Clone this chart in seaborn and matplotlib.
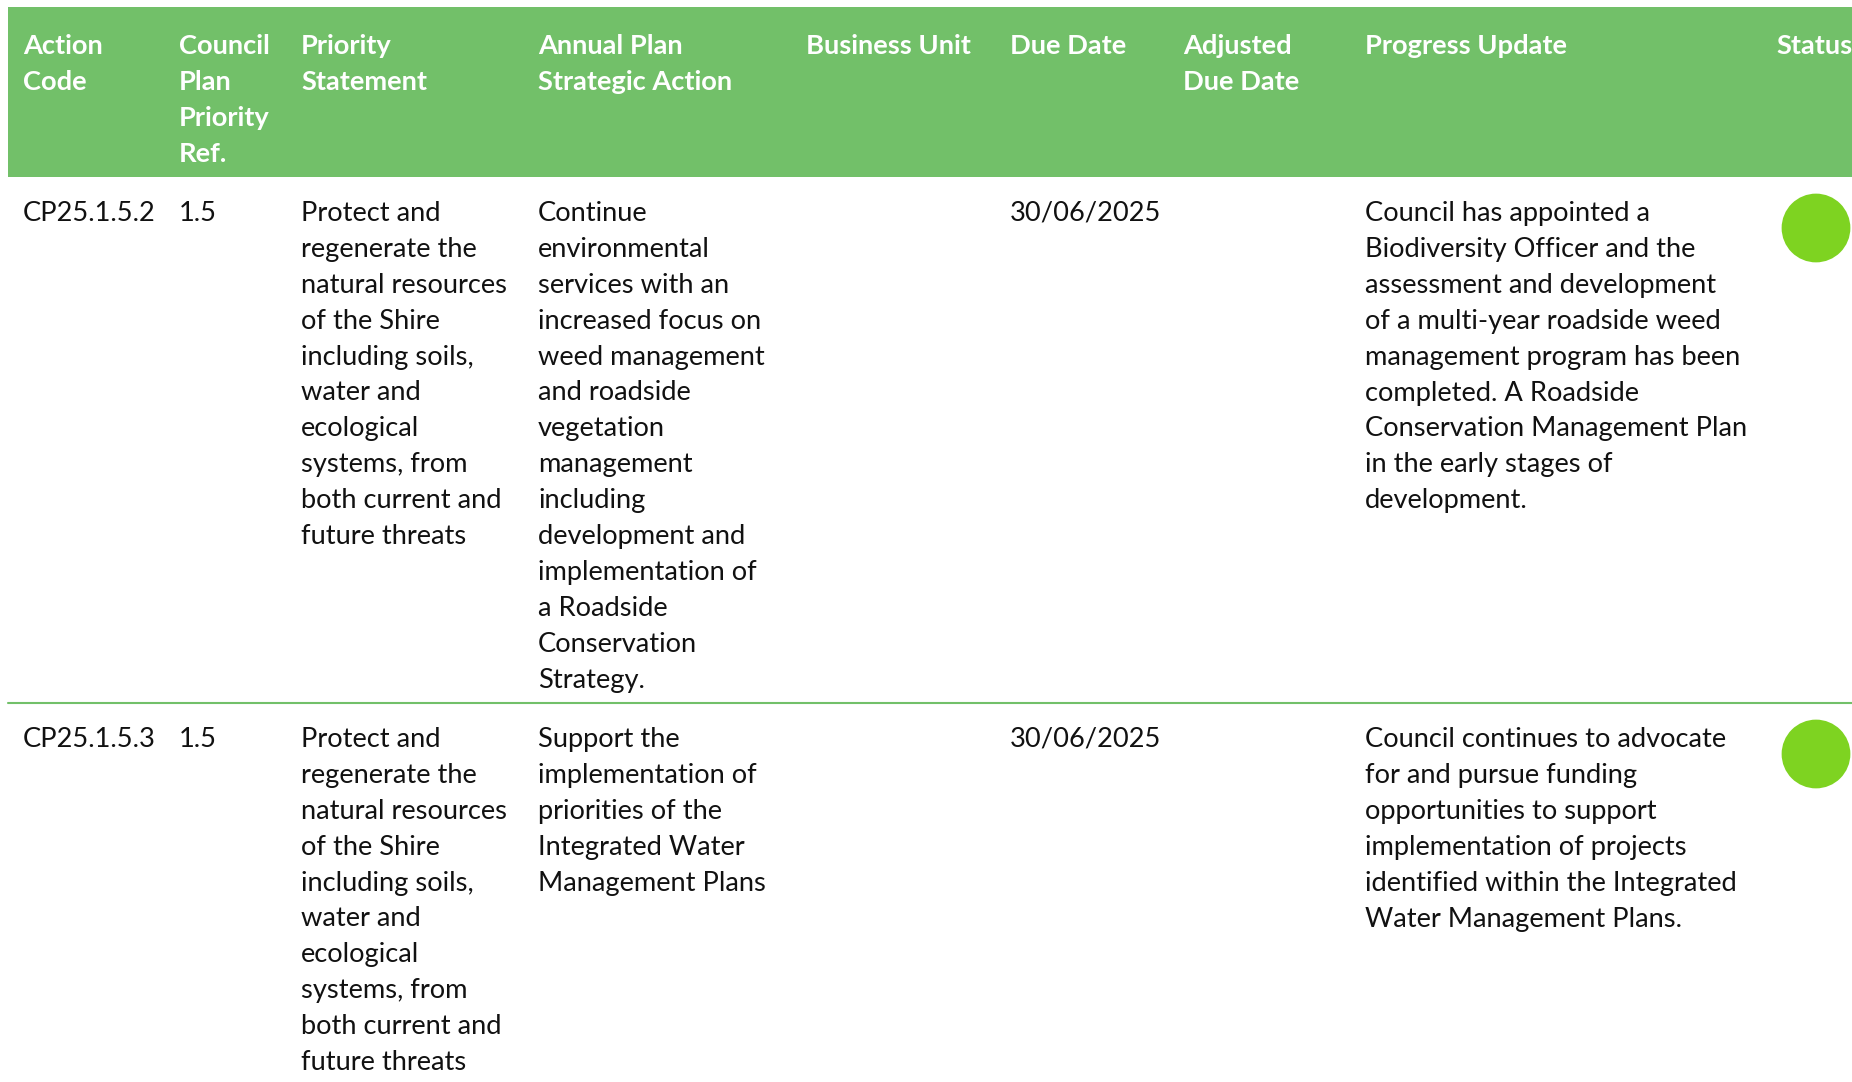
import pandas as pd
import matplotlib.pyplot as plt
import seaborn as sns

# Datos de la tabla
headers = ["Action\nCode", "Council\nPlan\nPriority\nRef.", "Priority\nStatement",
           "Annual Plan\nStrategic Action", "Business Unit", "Due Date",
           "Adjusted\nDue Date", "Progress Update", "Status"]

action_codes = ["CP25.1.5.2", "CP25.1.5.3"]
priority_refs = ["1.5", "1.5"]
priority_statements = [
    "Protect and\nregenerate the\nnatural resources\nof the Shire\nincluding soils,\nwater and\necological\nsystems, from\nboth current and\nfuture threats",
    "Protect and\nregenerate the\nnatural resources\nof the Shire\nincluding soils,\nwater and\necological\nsystems, from\nboth current and\nfuture threats",
]
strategic_actions = [
    "Continue\nenvironmental\nservices with an\nincreased focus on\nweed management\nand roadside\nvegetation\nmanagement\nincluding\ndevelopment and\nimplementation of\na Roadside\nConservation\nStrategy.",
    "Support the\nimplementation of\npriorities of the\nIntegrated Water\nManagement Plans",
]
business_units = ["", ""]
due_dates = ["30/06/2025", "30/06/2025"]
adjusted_due_dates = ["", ""]
progress_updates = [
    "Council has appointed a\nBiodiversity Officer and the\nassessment and development\nof a multi-year roadside weed\nmanagement program has been\ncompleted. A Roadside\nConservation Management Plan\nin the early stages of\ndevelopment.",
    "Council continues to advocate\nfor and pursue funding\nopportunities to support\nimplementation of projects\nidentified within the Integrated\nWater Management Plans.",
]
status = ["On track", "On track"]

# Estilo
sns.set_theme(style="white")
plt.rcParams['font.family'] = ['Lato', 'DejaVu Sans']

header_green = "#72c069"
dot_green = "#7ed321"
W, H = 1852, 1082
col_x = [23, 179, 301, 538, 806, 1010, 1183, 1365, 1776]
header_top, header_bottom = 7, 177
row_tops = [177, 703]
line_h = 35.9
fs = 19.6

fig = plt.figure(figsize=(W / 100, H / 100), dpi=100)
ax = fig.add_axes([0, 0, 1, 1])

# Cabecera verde
ax.add_patch(plt.Rectangle((8, header_top), W - 8, header_bottom - header_top,
                           color=header_green, lw=0))


# Escribir una celda línea por línea
def draw_cell(x, y0, text, **kw):
    for i, line in enumerate(text.split("\n")):
        ax.text(x, y0 + i * line_h, line, fontsize=fs, va="baseline",
                ha="left", clip_on=True, **kw)


for x, h in zip(col_x, headers):
    draw_cell(x, 54, h, color="white", fontweight="bold")

# Filas
columns = [action_codes, priority_refs, priority_statements, strategic_actions,
           business_units, due_dates, adjusted_due_dates, progress_updates]
for r, top in enumerate(row_tops):
    for x, col in zip(col_x, columns):
        draw_cell(x, top + 44, col[r], color="#111111")

# Separador entre filas
ax.plot([8, W], [row_tops[1], row_tops[1]], color=header_green, lw=1.5)

# Indicadores de estado
status_df = pd.DataFrame({
    "x": [1816] * len(status),
    "y": [t + 51 for t in row_tops],
    "status": status,
})
sns.scatterplot(data=status_df, x="x", y="y", ax=ax, s=2450, color=dot_green,
                edgecolor="none", legend=False, clip_on=True)

ax.set_xlim(0, W)
ax.set_ylim(H, 0)
ax.axis("off")

fig.savefig("out.png", dpi=100)
